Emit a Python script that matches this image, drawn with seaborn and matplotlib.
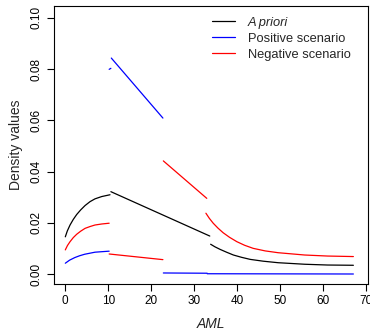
import matplotlib
matplotlib.use("Agg")
import matplotlib.pyplot as plt
import seaborn as sns
import pandas as pd
from matplotlib.lines import Line2D

# ---- data ----
prior_x1 = [0, 0.47, 1.1, 1.86, 2.65, 3.58, 4.6, 5.74, 6.9, 8.47, 10.4]
prior_y1 = [0.0146, 0.0169, 0.0192, 0.0214, 0.0233, 0.0251, 0.0268, 0.0283, 0.0294, 0.0303, 0.0310]
prior_x2 = [10.6, 33.6]
prior_y2 = [0.0322, 0.0149]
prior_x3 = [33.8, 34.8, 36.0, 37.5, 39.1, 41.0, 43.0, 46.0, 49.5, 55.7, 61.0, 67.0]
prior_y3 = [0.0117, 0.0107, 0.0097, 0.0086, 0.0075, 0.0066, 0.0058, 0.0051, 0.0045, 0.0039, 0.0036, 0.0035]

pos_x1 = [0, 1.0, 2.2, 3.3, 4.5, 5.7, 6.9, 8.5, 10.2]
pos_y1 = [0.0043, 0.0055, 0.0065, 0.0072, 0.0078, 0.0082, 0.0086, 0.0088, 0.0090]
pos_x2 = [10.2, 10.6]
pos_y2 = [0.0799, 0.0803]
pos_x3 = [10.7, 22.7]
pos_y3 = [0.0843, 0.0609]
pos_x4 = [22.8, 33.0]
pos_y4 = [0.0005, 0.0004]
pos_x5 = [33.0, 67.0]
pos_y5 = [0.0002, 0.0001]

neg_x1 = [0, 0.5, 1.1, 1.86, 2.65, 3.58, 4.6, 5.74, 6.9, 8.47, 10.2]
neg_y1 = [0.0095, 0.0112, 0.0127, 0.0143, 0.0156, 0.0168, 0.0179, 0.0186, 0.0192, 0.0196, 0.0199]
neg_x2 = [10.2, 22.7]
neg_y2 = [0.0079, 0.0057]
neg_x3 = [22.8, 32.9]
neg_y3 = [0.0442, 0.0296]
neg_x4 = [32.7, 33.5, 34.4, 35.5, 36.7, 38.2, 39.9, 41.7, 43.7, 46.5, 49.5, 55.7, 61.0, 67.0]
neg_y4 = [0.0238, 0.0218, 0.0199, 0.0180, 0.0162, 0.0144, 0.0127, 0.0113, 0.0101, 0.0091, 0.0084, 0.0075, 0.0071, 0.0069]

series_labels = ["A priori", "Positive scenario", "Negative scenario"]
series_colors = ["black", "blue", "red"]
x_ticks = [0, 10, 20, 30, 40, 50, 60, 70]
y_ticks = [0.00, 0.02, 0.04, 0.06, 0.08, 0.10]

segments = [
    ("A priori", prior_x1, prior_y1), ("A priori", prior_x2, prior_y2), ("A priori", prior_x3, prior_y3),
    ("Positive scenario", pos_x1, pos_y1), ("Positive scenario", pos_x2, pos_y2),
    ("Positive scenario", pos_x3, pos_y3), ("Positive scenario", pos_x4, pos_y4),
    ("Positive scenario", pos_x5, pos_y5),
    ("Negative scenario", neg_x1, neg_y1), ("Negative scenario", neg_x2, neg_y2),
    ("Negative scenario", neg_x3, neg_y3), ("Negative scenario", neg_x4, neg_y4),
]
rows = []
for i, (s, xs, ys) in enumerate(segments):
    for xv, yv in zip(xs, ys):
        rows.append({"series": s, "seg": i, "x": xv, "y": yv})
df = pd.DataFrame(rows)

sns.set_style("ticks")
plt.rcParams["font.family"] = ["Liberation Sans", "DejaVu Sans"]

fig = plt.figure(figsize=(3.70, 3.32), dpi=100)
ax = fig.add_axes([54 / 370, 1 - 284 / 332, (368 - 54) / 370, (284 - 6) / 332])

palette = dict(zip(series_labels, series_colors))
sns.lineplot(data=df, x="x", y="y", hue="series", units="seg", estimator=None,
             sort=False, palette=palette, linewidth=0.9, legend=False, ax=ax)

ax.set_xlim(-2.63, 70.4)
ax.set_ylim(-0.0038, 0.1046)
ax.set_xticks(x_ticks)
ax.set_xticklabels([str(t) for t in x_ticks])
ax.set_yticks(y_ticks)
ax.set_yticklabels([f"{t:.2f}" for t in y_ticks], rotation=90, va="center")
ax.tick_params(axis="both", direction="out", length=5, width=0.8, labelsize=8.5,
               color="black", labelcolor="black", pad=3)
for sp in ax.spines.values():
    sp.set_visible(True)
    sp.set_color("black")
    sp.set_linewidth(0.8)

ax.set_xlabel("AML", fontsize=10, style="italic", labelpad=7)
ax.set_ylabel("Density values", fontsize=10, labelpad=6)

handles = [Line2D([0], [0], color=c, lw=0.9) for c in series_colors]
leg = ax.legend(handles, series_labels,
                loc="upper left", frameon=False, fontsize=9.3,
                handlelength=1.8, handletextpad=1.0, labelspacing=0.32,
                bbox_to_anchor=(0.503, 0.962), borderaxespad=0, borderpad=0)
leg.get_texts()[0].set_style("italic")

fig.savefig("out.png", dpi=100)
